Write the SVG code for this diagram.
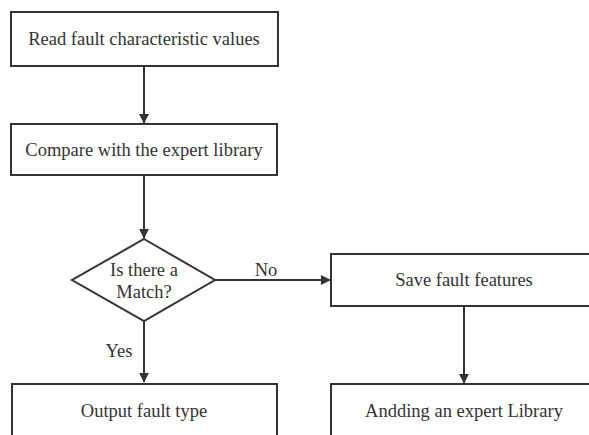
<svg xmlns="http://www.w3.org/2000/svg" width="589" height="435" viewBox="0 0 589 435">
<style>
.box{fill:#fff;stroke:#333;stroke-width:2}
.t{font-family:"Liberation Serif",serif;font-size:18.5px;fill:#333;text-anchor:middle}
.c{stroke:#333;stroke-width:2;fill:none}
</style>
<defs>
<marker id="ah" markerWidth="10" markerHeight="12" refX="11" refY="6" orient="auto" markerUnits="userSpaceOnUse" viewBox="0 0 12 12">
<path d="M0,0 L12,6 L0,12 z" fill="#333"/>
</marker>
</defs>
<rect width="589" height="435" fill="#fff"/>
<g id="connectors">
<line class="c" x1="144" y1="66" x2="144" y2="123" marker-end="url(#ah)"/>
<line class="c" x1="144" y1="175" x2="144" y2="238" marker-end="url(#ah)"/>
<line class="c" x1="144" y1="321" x2="144" y2="382" marker-end="url(#ah)"/>
<line class="c" x1="215" y1="280" x2="330" y2="280" marker-end="url(#ah)"/>
<line class="c" x1="464" y1="306" x2="464" y2="383" marker-end="url(#ah)"/>
<text class="t" x="266" y="276">No</text>
<text class="t" x="119" y="357">Yes</text>
</g>
<g id="n1">
<rect class="box" x="11" y="12" width="267" height="54"/>
<text class="t" x="144" y="45">Read fault characteristic values</text>
</g>
<g id="n2">
<rect class="box" x="11" y="124" width="266" height="51"/>
<text class="t" x="144" y="156">Compare with the expert library</text>
</g>
<g id="n3">
<polygon class="box" points="144,239 215,280 144,321 72,280"/>
<text class="t" x="144" y="276">Is there a</text>
<text class="t" x="144" y="298">Match?</text>
</g>
<g id="n4">
<rect class="box" x="12" y="384" width="265" height="60"/>
<text class="t" x="144" y="417">Output fault type</text>
</g>
<g id="n5">
<rect class="box" x="331" y="254" width="266" height="52"/>
<text class="t" x="464" y="286">Save fault features</text>
</g>
<g id="n6">
<rect class="box" x="331" y="384" width="266" height="60"/>
<text class="t" x="464" y="417">Andding an expert Library</text>
</g>
</svg>
